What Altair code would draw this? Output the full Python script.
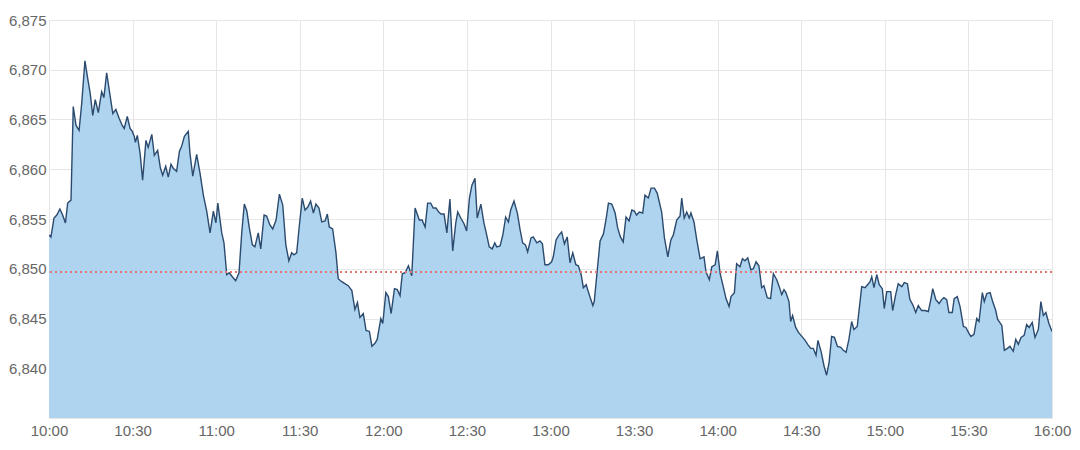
import altair as alt
import pandas as pd

# minutes after 10:00 and index values
minutes = [0, 0.7, 1.8, 2.8, 3.9, 4.9, 5.9, 6.7, 7.9, 8.7, 9.7, 10.8, 11.7, 12.9, 13.9, 14.8, 15.7, 16.6, 17.7, 18.9,
           19.7, 20.7, 21.6, 22.9, 24.0, 25.2, 26.3, 27.0, 28.1, 29.1, 29.9, 30.6, 31.0, 31.7, 32.7, 33.6, 34.8, 35.6, 36.9, 37.8,
           39.0, 40.0, 40.8, 41.9, 42.8, 43.8, 44.6, 45.8, 46.8, 47.6, 48.6, 50.0, 50.6, 51.6, 53.0, 54.2, 55.4, 56.6, 57.8, 59.0,
           59.9, 60.6, 62.0, 62.8, 63.8, 64.7, 65.8, 67.0, 68.2, 69.2, 70.1, 71.0, 71.9, 73.0, 73.9, 75.1, 76.0, 77.2, 78.1, 79.3,
           80.3, 81.5, 82.7, 83.9, 85.0, 86.1, 87.1, 87.9, 88.9, 89.8, 90.9, 91.9, 92.9, 93.9, 94.9, 95.8, 96.9, 97.9, 99.1, 99.9,
           100.6, 101.8, 103.0, 103.8, 105.1, 106.2, 107.4, 108.7, 109.8, 110.7, 111.6, 112.8, 113.8, 115.0, 115.9, 117.0, 117.8, 119.1, 119.8, 120.9,
           121.8, 122.8, 124.0, 125.0, 126.0, 126.8, 127.8, 129.0, 130.2, 131.4, 132.9, 133.9, 135.0, 135.9, 137.0, 137.9, 138.9, 139.9, 140.7, 141.8,
           142.8, 143.9, 144.9, 146.0, 146.7, 147.8, 149.0, 149.9, 150.9, 151.8, 152.9, 153.7, 155.0, 156.1, 157.1, 158.0, 159.1, 160.0, 160.7, 161.9,
           162.9, 163.9, 164.9, 165.7, 166.9, 168.1, 169.1, 170.0, 171.0, 171.8, 173.0, 173.8, 175.1, 176.2, 177.1, 178.0, 179.2, 180.4, 181.0, 182.0,
           183.1, 184.0, 185.0, 186.0, 187.0, 188.0, 189.1, 190.0, 191.0, 191.8, 192.8, 193.9, 195.2, 195.7, 196.8, 197.8, 199.0, 199.9, 200.8, 202.0,
           203.2, 204.1, 205.1, 206.1, 207.1, 208.2, 209.2, 210.1, 210.9, 211.9, 213.1, 213.9, 215.1, 216.1, 217.3, 218.3, 219.9, 220.9, 222.1, 223.2,
           224.1, 225.3, 226.5, 227.1, 228.0, 228.9, 229.8, 230.4, 231.5, 232.5, 233.7, 235.1, 235.8, 237.0, 237.9, 239.1, 239.9, 240.9, 242.0, 243.0,
           244.1, 244.8, 246.0, 246.8, 248.0, 248.9, 249.8, 250.8, 251.9, 252.8, 253.8, 254.8, 255.8, 256.6, 257.8, 259.0, 260.0, 261.2, 262.1, 263.0,
           263.8, 264.5, 265.6, 266.2, 266.9, 268.0, 269.0, 270.2, 271.4, 272.3, 273.4, 274.3, 275.3, 276.0, 277.1, 278.2, 279.1, 280.0, 280.9, 281.9,
           283.0, 284.2, 285.1, 286.1, 287.1, 288.1, 288.9, 290.1, 291.7, 292.9, 294.1, 294.7, 295.3, 296.1, 297.1, 298.0, 299.1, 299.8, 300.7, 302.1,
           302.8, 303.9, 304.8, 306.1, 307.0, 308.1, 309.0, 310.0, 311.1, 312.0, 313.2, 314.4, 315.6, 316.5, 317.2, 318.3, 319.5, 320.4, 321.2, 322.2,
           323.0, 324.2, 324.9, 326.0, 327.0, 328.2, 329.1, 330.2, 330.9, 332.0, 333.0, 333.8, 335.0, 335.7, 336.6, 337.8, 338.7, 339.8, 340.5, 342.0,
           342.9, 344.0, 344.9, 346.1, 347.0, 347.9, 348.9, 350.0, 350.9, 351.8, 352.9, 353.9, 355.1, 356.0, 356.9, 357.8, 358.9, 360.0]

values = [6.8534, 6.8532, 6.8551, 6.8554, 6.8560, 6.8554, 6.8546, 6.8566, 6.8569, 6.8663, 6.8644, 6.8639, 6.8665, 6.8709, 6.8691, 6.8676, 6.8654, 6.8670, 6.8657, 6.8678,
          6.8672, 6.8697, 6.8680, 6.8656, 6.8660, 6.8651, 6.8644, 6.8641, 6.8653, 6.8641, 6.8638, 6.8633, 6.8627, 6.8634, 6.8616, 6.8589, 6.8629, 6.8622, 6.8635, 6.8614,
          6.8619, 6.8601, 6.8594, 6.8603, 6.8592, 6.8605, 6.8601, 6.8598, 6.8618, 6.8623, 6.8633, 6.8638, 6.8616, 6.8593, 6.8615, 6.8596, 6.8574, 6.8558, 6.8536, 6.8558,
          6.8546, 6.8566, 6.8536, 6.8526, 6.8494, 6.8496, 6.8492, 6.8488, 6.8496, 6.8537, 6.8565, 6.8558, 6.8541, 6.8524, 6.8522, 6.8536, 6.8520, 6.8554, 6.8553, 6.8544,
          6.8540, 6.8549, 6.8575, 6.8564, 6.8524, 6.8508, 6.8516, 6.8514, 6.8516, 6.8542, 6.8571, 6.8559, 6.8562, 6.8568, 6.8556, 6.8565, 6.8561, 6.8547, 6.8548, 6.8555,
          6.8542, 6.8540, 6.8516, 6.8490, 6.8487, 6.8485, 6.8483, 6.8478, 6.8459, 6.8466, 6.8451, 6.8455, 6.8438, 6.8437, 6.8422, 6.8425, 6.8429, 6.8450, 6.8445, 6.8476,
          6.8472, 6.8455, 6.8480, 6.8479, 6.8473, 6.8495, 6.8496, 6.8503, 6.8493, 6.8561, 6.8549, 6.8549, 6.8542, 6.8566, 6.8566, 6.8561, 6.8561, 6.8557, 6.8555, 6.8555,
          6.8536, 6.8570, 6.8518, 6.8546, 6.8557, 6.8551, 6.8545, 6.8538, 6.8571, 6.8584, 6.8591, 6.8551, 6.8565, 6.8546, 6.8534, 6.8522, 6.8520, 6.8526, 6.8522, 6.8523,
          6.8534, 6.8552, 6.8547, 6.8559, 6.8568, 6.8556, 6.8539, 6.8526, 6.8524, 6.8517, 6.8531, 6.8532, 6.8526, 6.8528, 6.8525, 6.8504, 6.8504, 6.8507, 6.8512, 6.8529,
          6.8534, 6.8537, 6.8525, 6.8532, 6.8506, 6.8516, 6.8504, 6.8503, 6.8494, 6.8481, 6.8484, 6.8474, 6.8463, 6.8467, 6.8499, 6.8528, 6.8535, 6.8549, 6.8566, 6.8565,
          6.8556, 6.8541, 6.8532, 6.8527, 6.8552, 6.8548, 6.8559, 6.8558, 6.8554, 6.8557, 6.8556, 6.8574, 6.8571, 6.8581, 6.8581, 6.8576, 6.8557, 6.8531, 6.8512, 6.8529,
          6.8534, 6.8549, 6.8553, 6.8571, 6.8551, 6.8557, 6.8551, 6.8556, 6.8547, 6.8529, 6.8510, 6.8512, 6.8497, 6.8489, 6.8502, 6.8504, 6.8518, 6.8495, 6.8482, 6.8470,
          6.8462, 6.8472, 6.8476, 6.8505, 6.8502, 6.8510, 6.8508, 6.8511, 6.8499, 6.8500, 6.8507, 6.8503, 6.8481, 6.8483, 6.8471, 6.8470, 6.8495, 6.8489, 6.8482, 6.8474,
          6.8479, 6.8476, 6.8467, 6.8447, 6.8453, 6.8441, 6.8436, 6.8432, 6.8428, 6.8424, 6.8420, 6.8420, 6.8413, 6.8428, 6.8417, 6.8402, 6.8393, 6.8406, 6.8432, 6.8431,
          6.8422, 6.8421, 6.8418, 6.8416, 6.8429, 6.8447, 6.8439, 6.8442, 6.8482, 6.8481, 6.8485, 6.8487, 6.8492, 6.8481, 6.8494, 6.8484, 6.8480, 6.8460, 6.8477, 6.8477,
          6.8458, 6.8474, 6.8485, 6.8482, 6.8486, 6.8485, 6.8469, 6.8464, 6.8456, 6.8463, 6.8458, 6.8458, 6.8457, 6.8469, 6.8480, 6.8469, 6.8465, 6.8469, 6.8471, 6.8469,
          6.8456, 6.8456, 6.8470, 6.8472, 6.8462, 6.8442, 6.8441, 6.8435, 6.8432, 6.8434, 6.8450, 6.8447, 6.8476, 6.8467, 6.8475, 6.8476, 6.8467, 6.8458, 6.8449, 6.8443,
          6.8418, 6.8420, 6.8422, 6.8417, 6.8429, 6.8424, 6.8431, 6.8433, 6.8444, 6.8441, 6.8446, 6.8431, 6.8439, 6.8467, 6.8453, 6.8456, 6.8445, 6.8437]

reference_level = 6.8497
y_ticks = [6.840, 6.845, 6.850, 6.855, 6.860, 6.865, 6.870, 6.875]
x_ticks = [0, 30, 60, 90, 120, 150, 180, 210, 240, 270, 300, 330, 360]  # minutes after 10:00

df = pd.DataFrame({"minute": minutes, "value": values})

x_enc = alt.X("minute:Q", scale=alt.Scale(domain=[0, 360], nice=False, zero=False), title=None,
              axis=alt.Axis(values=x_ticks, labelPadding=5, labelFlush=False,
                            labelExpr="(10 + floor(datum.value / 60)) + ':' + (datum.value % 60 == 0 ? '00' : '30')"))
y_enc = alt.Y("value:Q", scale=alt.Scale(domain=[6.835, 6.875], zero=False, nice=False), title=None,
              axis=alt.Axis(values=y_ticks, labelPadding=3,
                            labelExpr="replace(format(datum.value, '.3f'), '.', ',')"))

area = alt.Chart(df).mark_area(
    color="#aed4f0", opacity=1,
    line={"color": "#2b4a6e", "strokeWidth": 1.4},
    clip=True,
).encode(x=x_enc, y=y_enc)

ref = alt.Chart(df).mark_rule(color="#e8766f", strokeDash=[2, 3], strokeWidth=1.2).encode(
    y=alt.datum(reference_level)
)

chart = alt.layer(area, ref).properties(
    width=1003, height=398,
    autosize=alt.AutoSizeParams(type="none"),
    padding={"left": 41, "top": 12, "right": 20, "bottom": 24},
    background="white",
).configure_view(stroke="#e6e6e6", strokeWidth=1).configure_axis(
    domain=False, ticks=False, grid=True, gridColor="#e6e6e6", gridWidth=1,
    labelColor="#666666", labelFont="Liberation Sans", labelFontSize=15, zindex=1,
)

chart.save("out.html", embed_options={"renderer": "svg", "actions": False})
